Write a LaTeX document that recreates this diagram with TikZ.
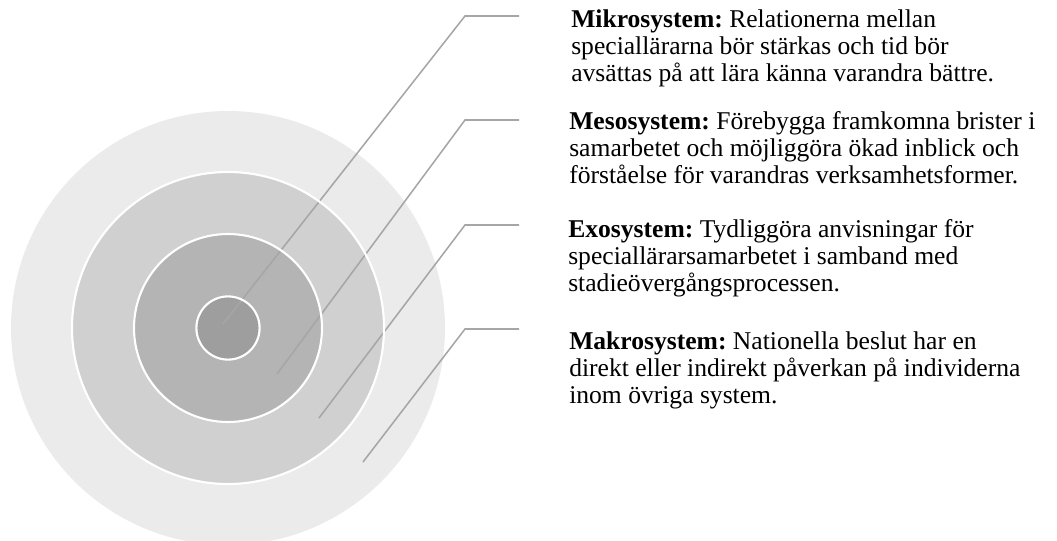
\documentclass[tikz,border=0pt]{standalone}
\usepackage{fontspec}
\setmainfont{Liberation Serif}
\usepackage{xcolor}
\usetikzlibrary{positioning}
\frenchspacing

\definecolor{makrogray}{HTML}{EBEBEB}
\definecolor{exogray}{HTML}{D0D0D0}
\definecolor{mesogray}{HTML}{B4B4B4}
\definecolor{mikrogray}{HTML}{9E9E9E}
\definecolor{leadergray}{HTML}{A6A6A6}

\begin{document}
\begin{tikzpicture}[
    ring/.style={draw=white, line width=1.5pt},
    leader/.style={draw=leadergray, line width=1.1pt},
    desc/.style={anchor=base west, align=left, inner sep=0pt, font=\fontsize{18.2}{19.4}\selectfont}
]
    \useasboundingbox (-5.7,-5.3) rectangle (20.725,8.2);

    % Circles
    \fill[makrogray] (0,0) circle (5.425);
    \fill[exogray] (0,0) circle (3.9);
    \fill[mesogray] (0,0) circle (2.35);
    \fill[mikrogray] (0,0) circle (0.79);

    % Leader lines
    \foreach \n/\tx/\ty/\ky in {mikro/-0.125/0.1/7.8, meso/1.225/-1.15/5.2, exo/2.275/-2.25/2.575, makro/3.375/-3.35/-0.025} {
        \coordinate (\n-tip) at (\tx,\ty);
        \coordinate (\n-knee) at (5.925,\ky);
        \coordinate (\n-end) at (7.275,\ky);
        \draw[leader] (\n-tip) -- (\n-knee) -- (\n-end);
    }

    % White borders
    \foreach \r in {3.9, 2.35, 0.79}
        \draw[ring] (0,0) circle (\r);

    % Texts (base = last line)
    \node[desc] (mikro-txt) at (8.575,6.156) {\textbf{Mikrosystem:} Relationerna mellan\\speciallärarna bör stärkas och tid bör\\avsättas på att lära känna varandra bättre.};
    \node[desc] (meso-txt) at (8.525,3.606) {\textbf{Mesosystem:} Förebygga framkomna brister i\\samarbetet och möjliggöra ökad inblick och\\förståelse för varandras verksamhetsformer.};
    \node[desc] (exo-txt) at (8.5,0.906) {\textbf{Exosystem:} Tydliggöra anvisningar för\\speciallärarsamarbetet i samband med\\stadieövergångsprocessen.};
    \node[desc] (makro-txt) at (8.525,-1.894) {\textbf{Makrosystem:} Nationella beslut har en\\direkt eller indirekt påverkan på individerna\\inom övriga system.};
\end{tikzpicture}
\end{document}
